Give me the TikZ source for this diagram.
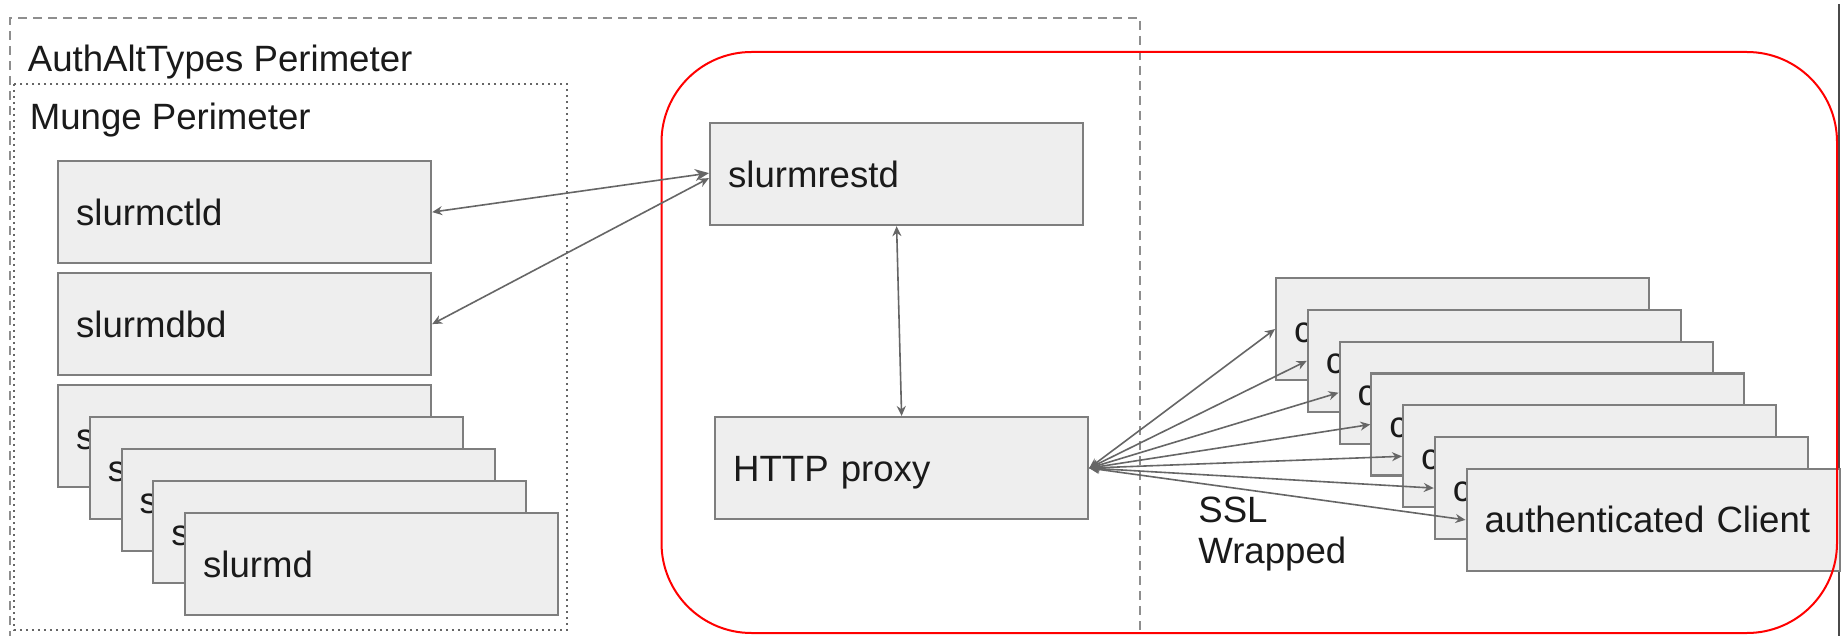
\documentclass[tikz,border=0pt]{standalone}
\usepackage{fontspec}
\setmainfont{Liberation Sans}
\usetikzlibrary{arrows.meta}
\definecolor{boxfill}{HTML}{EEEEEE}
\definecolor{boxline}{HTML}{7E7E7E}
\definecolor{wire}{HTML}{666666}
\definecolor{txt}{HTML}{1A1A1A}
\definecolor{perim}{HTML}{8E8E8E}
\definecolor{munge}{HTML}{666666}
\definecolor{edgeline}{HTML}{4A4A4A}
\begin{document}
\begin{tikzpicture}[x=0.5pt,y=-0.5pt,
  every node/.style={font=\fontsize{18.3pt}{20.5pt}\selectfont, text=txt},
  box/.style={draw=boxline, fill=boxfill, line width=1.1pt, anchor=north west,
    minimum width=186.5pt, minimum height=51pt, inner xsep=9pt, inner ysep=0pt,
    text width=168.5pt, align=left, text height=14pt, text depth=1pt},
  conn/.style={draw=wire, line width=0.8pt,
    {Stealth[length=5pt,width=4.5pt]}-{Stealth[length=5pt,width=4.5pt]}},
  title/.style={anchor=base west, inner sep=0pt},
]
\useasboundingbox (0,0) rectangle (1841,636);
\fill[white] (0,0) rectangle (1841,636);

% perimeters
\draw[perim, line width=1.2pt, dash pattern=on 4.5pt off 3pt]
  (10,640) -- (10,18) -- (1140,18) -- (1140,640);
\draw[munge, line width=0.8pt, dash pattern=on 0.8pt off 2.2pt]
  (14,84) rectangle (567,630);
\draw[edgeline, line width=1.2pt] (1839,4) -- (1839,636);

\node[title] (authT) at (27.5,71.5) {AuthAltTypes Perimeter};
\node[title] (mungeT) at (29.5,130) {Munge Perimeter};

% daemons inside the munge perimeter
\node[box] (ctld) at (57,160) {slurmctld};
\node[box] (dbd) at (57,272) {slurmdbd};
\foreach \i in {0,...,4}
  \node[box] (sd\i) at (57+31.75*\i, 384+32*\i) {slurmd};

% REST side
\node[box] (srd) at (709,122) {slurmrestd};
\node[box] (proxy) at (714,416) {HTTP proxy};
\foreach \i in {0,...,5}
  \node[box] (cl\i) at (1275+31.75*\i, 277+31.8*\i) {client};
\node[box] (cl6) at (1465.5,467.8) {authenticated Client};

% SSL-protected zone
\draw[red, line width=1pt, rounded corners=45pt] (661.5,52) rectangle (1837,633);

\node[anchor=base west, inner sep=0pt, align=left] (ssl) at (1198,563) {SSL\\Wrapped};

% connections
\draw[draw=wire, line width=0.8pt,
  {Stealth[length=5pt,width=4.5pt]}-{Stealth[length=7pt,width=6pt]}]
  (ctld.east) -- ([yshift=0.5pt]srd.west);
\draw[conn] (dbd.east) -- ([yshift=-2pt]srd.west);
\draw[conn] (srd.south) -- (proxy.north);
\foreach \i in {0,...,6}
  \draw[conn] (proxy.east) -- (cl\i.west);
\end{tikzpicture}
\end{document}
